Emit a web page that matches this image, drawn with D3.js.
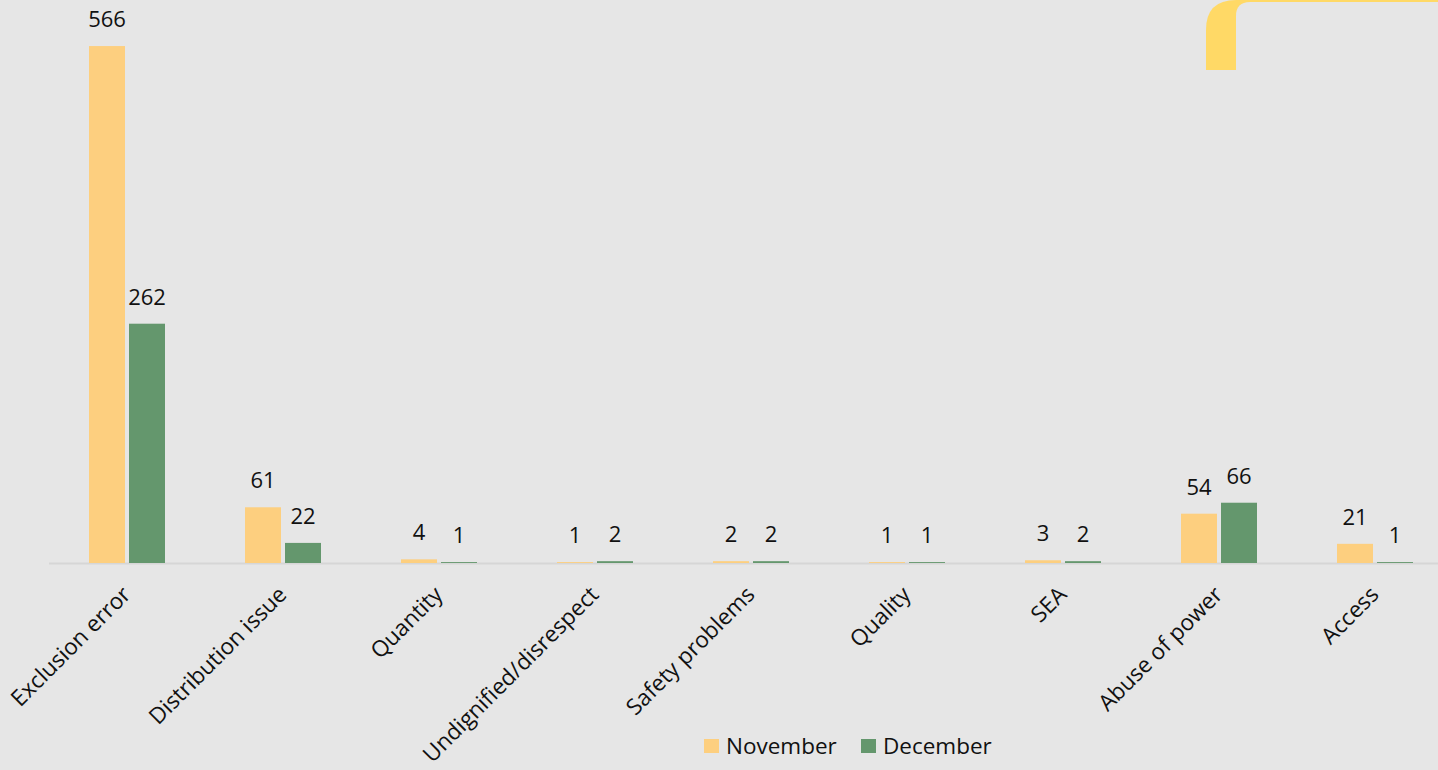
<!DOCTYPE html>
<html>
<head>
<meta charset="utf-8">
<script src="https://cdn.jsdelivr.net/npm/d3@7"></script>
<style>
  html, body { margin: 0; padding: 0; background: #e6e6e6; }
  svg { display: block; font-family: "Open Sans", "Noto Sans", sans-serif; }
</style>
</head>
<body>
<svg width="1438" height="770"></svg>
<script>
var categories = ['Exclusion error', 'Distribution issue', 'Quantity', 'Undignified/disrespect',
  'Safety problems', 'Quality', 'SEA', 'Abuse of power', 'Access'];
var series = ['November', 'December'];
var november = [566, 61, 4, 1, 2, 1, 3, 54, 21];
var december = [262, 22, 1, 2, 2, 1, 2, 66, 1];

var colors = { November: '#fdcf7f', December: '#64976d' };

var svg = d3.select('svg'),
    width = +svg.attr('width'),
    height = +svg.attr('height');

svg.append('rect').attr('width', width).attr('height', height).attr('fill', '#e6e6e6');

// decorative corner shape top right
svg.append('path')
  .attr('d', 'M1206,70 L1206,30 Q1206,0 1236,0 L1438,0 L1438,70 Z')
  .attr('fill', '#ffd966');
svg.append('path')
  .attr('d', 'M1236,90 L1236,16 Q1236,2 1250,2 L1438,2 L1438,90 Z')
  .attr('fill', '#e6e6e6');
svg.append('rect').attr('x', 1200).attr('y', 70).attr('width', 238).attr('height', 30).attr('fill', '#e6e6e6');

var data = categories.map(function(c, i) {
  return { cat: c, November: november[i], December: december[i] };
});

var x0 = d3.scaleBand().domain(categories).range([49, 49 + 156 * 9]).paddingInner(0).paddingOuter(0);
var x1 = d3.scaleBand().domain(series).range([40, 116]).paddingInner(0.1);
var y = d3.scaleLinear().domain([0, 600]).range([563, 15]);

// axis line
svg.append('line')
  .attr('x1', 49).attr('x2', width)
  .attr('y1', y(0) + 0.5).attr('y2', y(0) + 0.5)
  .attr('stroke', '#d6d6d6').attr('stroke-width', 2);

var groups = svg.selectAll('g.cat')
  .data(data)
  .enter().append('g')
  .attr('class', 'cat')
  .attr('transform', function(d) { return 'translate(' + x0(d.cat) + ',0)'; });

var bars = groups.selectAll('rect')
  .data(function(d) { return series.map(function(s) { return { s: s, v: d[s] }; }); })
  .enter();

bars.append('rect')
  .attr('x', function(d) { return x1(d.s); })
  .attr('width', x1.bandwidth())
  .attr('y', function(d) { return y(d.v); })
  .attr('height', function(d) { return y(0) - y(d.v); })
  .attr('fill', function(d) { return colors[d.s]; });

bars.append('text')
  .attr('x', function(d) { return x1(d.s) + x1.bandwidth() / 2; })
  .attr('y', function(d) { return y(d.v) - 19; })
  .attr('text-anchor', 'middle')
  .attr('font-size', 22)
  .attr('fill', '#111')
  .text(function(d) { return d.v; });

// category labels
svg.selectAll('text.cat')
  .data(categories)
  .enter().append('text')
  .attr('class', 'cat')
  .attr('text-anchor', 'end')
  .attr('font-size', 22.5)
  .attr('fill', '#111')
  .attr('transform', function(d) {
    return 'translate(' + (x0(d) + x0.bandwidth() / 2 + 5) + ',596) rotate(-45)';
  })
  .text(function(d) { return d; });

// legend
var legend = svg.append('g').attr('transform', 'translate(704,739)');
var lx = [0, 157];
series.forEach(function(s, i) {
  legend.append('rect').attr('x', lx[i]).attr('y', 0).attr('width', 15).attr('height', 14).attr('fill', colors[s]);
  legend.append('text').attr('x', lx[i] + 22).attr('y', 15).attr('font-size', 22.5).attr('fill', '#111').text(s);
});
</script>
</body>
</html>
